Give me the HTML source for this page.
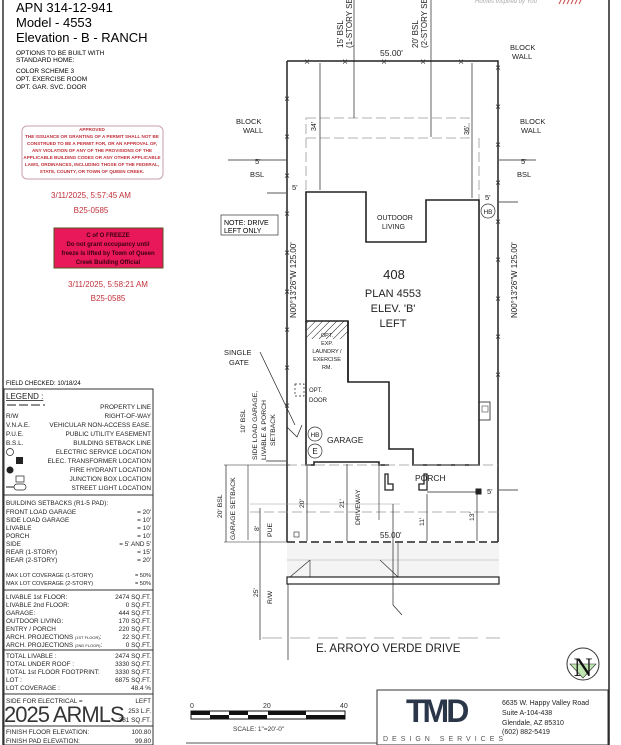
<!DOCTYPE html>
<html><head><meta charset="utf-8"><style>
html,body{margin:0;padding:0;background:#fff;width:621px;height:745px;overflow:hidden}
svg{display:block;font-family:"Liberation Sans",sans-serif}
</style></head><body>
<svg width="621" height="745" viewBox="0 0 621 745" xmlns="http://www.w3.org/2000/svg">
<rect width="621" height="745" fill="#fff"/>
<line x1="3" y1="0" x2="3" y2="745" stroke="#333" stroke-width="1.5"/>
<line x1="609" y1="0" x2="609" y2="745" stroke="#222" stroke-width="1.5"/>
<line x1="186" y1="743" x2="609" y2="743" stroke="#555" stroke-width="1"/>
<text x="16" y="12" font-size="13">APN  314-12-941</text>
<text x="16" y="27" font-size="13">Model -  4553</text>
<text x="16" y="42" font-size="13">Elevation -  B - RANCH</text>
<text x="16" y="55" font-size="6.5">OPTIONS TO BE BUILT WITH</text>
<text x="16" y="62" font-size="6.5">STANDARD HOME:</text>
<text x="16" y="73" font-size="6.5">COLOR  SCHEME  3</text>
<text x="16" y="81" font-size="6.5">OPT.  EXERCISE  ROOM</text>
<text x="16" y="89" font-size="6.5">OPT.  GAR.  SVC.  DOOR</text>
<rect x="22" y="126" width="141" height="53" rx="5" fill="#fff" stroke="#c9a0a8"/>
<g font-size="4.6" fill="#c0303a" text-anchor="middle" font-weight="bold">
<text x="92" y="131">APPROVED</text>
<text x="92" y="138">THE ISSUANCE OR GRANTING OF A PERMIT SHALL NOT BE</text>
<text x="92" y="145">CONSTRUED TO BE A PERMIT FOR, OR AN APPROVAL OF,</text>
<text x="92" y="152">ANY VIOLATION OF ANY OF THE PROVISIONS OF THE</text>
<text x="92" y="159">APPLICABLE BUILDING CODES OR ANY OTHER APPLICABLE</text>
<text x="92" y="166">LAWS, ORDINANCES, INCLUDING THOSE OF THE FEDERAL,</text>
<text x="92" y="173">STATE, COUNTY, OR TOWN OF QUEEN CREEK.</text>
</g>
<text x="91" y="198" font-size="8" fill="#c0303a" text-anchor="middle">3/11/2025, 5:57:45 AM</text>
<text x="91" y="213" font-size="8" fill="#c0303a" text-anchor="middle">B25-0585</text>
<rect x="54" y="228" width="109" height="40" fill="#e8185a" stroke="#552"/>
<g font-size="6" fill="#3a0010" text-anchor="middle" font-weight="bold">
<text x="108" y="237">C of O FREEZE</text>
<text x="108" y="246">Do not grant occupancy until</text>
<text x="108" y="255">freeze is lifted by Town of Queen</text>
<text x="108" y="264">Creek Building Official</text>
</g>
<text x="108" y="287" font-size="8" fill="#c0303a" text-anchor="middle">3/11/2025, 5:58:21 AM</text>
<text x="108" y="301" font-size="8" fill="#c0303a" text-anchor="middle">B25-0585</text>
<text x="6" y="385" font-size="6">FIELD CHECKED: 10/18/24</text>
<rect x="4" y="389" width="149" height="356" fill="none" stroke="#333"/>
<g font-size="6.4" fill="#222">
<text x="6" y="399" font-size="8" text-decoration="underline">LEGEND :</text>
<line x1="7" y1="405" x2="45" y2="405" stroke="#222" stroke-dasharray="9,3"/>
<g text-anchor="end">
<text x="151" y="409">PROPERTY LINE</text>
<text x="151" y="418">RIGHT-OF-WAY</text>
<text x="151" y="427">VEHICULAR NON-ACCESS EASE.</text>
<text x="151" y="436">PUBLIC UTILITY EASEMENT</text>
<text x="151" y="445">BUILDING SETBACK LINE</text>
<text x="151" y="454">ELECTRIC SERVICE LOCATION</text>
<text x="151" y="463">ELEC. TRANSFORMER LOCATION</text>
<text x="151" y="472">FIRE HYDRANT LOCATION</text>
<text x="151" y="481">JUNCTION BOX LOCATION</text>
<text x="151" y="490">STREET LIGHT LOCATION</text>
</g>
<text x="6" y="418">R/W</text>
<text x="6" y="427">V.N.A.E.</text>
<text x="6" y="436">P.U.E.</text>
<text x="6" y="445">B.S.L.</text>
<circle cx="10" cy="452" r="3.5" fill="none" stroke="#222" stroke-width=".7"/>
<rect x="16" y="457" width="7" height="7" fill="#222"/>
<circle cx="10" cy="470" r="3.5" fill="#222"/>
<rect x="16" y="476" width="8" height="6" fill="none" stroke="#222" stroke-width=".7"/>
<line x1="6" y1="487" x2="14" y2="487" stroke="#222"/><rect x="14" y="484" width="12" height="6" rx="3" fill="none" stroke="#222" stroke-width=".7"/>
<line x1="4" y1="495" x2="153" y2="495" stroke="#333"/>
<text x="6" y="505">BUILDING SETBACKS (R1-5 PAD):</text>
<text x="6" y="514">FRONT LOAD GARAGE</text><text x="151" y="514" text-anchor="end">= 20'</text>
<text x="6" y="522">SIDE LOAD GARAGE</text><text x="151" y="522" text-anchor="end">= 10'</text>
<text x="6" y="530">LIVABLE</text><text x="151" y="530" text-anchor="end">= 10'</text>
<text x="6" y="538">PORCH</text><text x="151" y="538" text-anchor="end">= 10'</text>
<text x="6" y="546">SIDE</text><text x="151" y="546" text-anchor="end">= 5' AND 5'</text>
<text x="6" y="554">REAR (1-STORY)</text><text x="151" y="554" text-anchor="end">= 15'</text>
<text x="6" y="562">REAR (2-STORY)</text><text x="151" y="562" text-anchor="end">= 20'</text>
<text x="6" y="577" font-size="5.6">MAX LOT COVERAGE (1-STORY)</text><text x="151" y="577" text-anchor="end" font-size="5.6">= 50%</text>
<text x="6" y="585" font-size="5.6">MAX LOT COVERAGE (2-STORY)</text><text x="151" y="585" text-anchor="end" font-size="5.6">= 50%</text>
<line x1="4" y1="590" x2="153" y2="590" stroke="#333"/>
<text x="6" y="599">LIVABLE 1st FLOOR:</text><text x="151" y="599" text-anchor="end">2474  SQ.FT.</text>
<text x="6" y="607">LIVABLE 2nd FLOOR:</text><text x="151" y="607" text-anchor="end">0  SQ.FT.</text>
<text x="6" y="615">GARAGE:</text><text x="151" y="615" text-anchor="end">444  SQ.FT.</text>
<text x="6" y="623">OUTDOOR LIVING:</text><text x="151" y="623" text-anchor="end">170  SQ.FT.</text>
<text x="6" y="631">ENTRY / PORCH</text><text x="151" y="631" text-anchor="end">220  SQ.FT.</text>
<text x="6" y="639">ARCH. PROJECTIONS <tspan font-size="4">(1ST FLOOR)</tspan>:</text><text x="151" y="639" text-anchor="end">22  SQ.FT.</text>
<text x="6" y="647">ARCH. PROJECTIONS <tspan font-size="4">(2ND FLOOR)</tspan>:</text><text x="151" y="647" text-anchor="end">0  SQ.FT.</text>
<line x1="4" y1="650" x2="153" y2="650" stroke="#333"/>
<text x="6" y="658">TOTAL LIVABLE :</text><text x="151" y="658" text-anchor="end">2474  SQ.FT.</text>
<text x="6" y="666">TOTAL UNDER ROOF :</text><text x="151" y="666" text-anchor="end">3330  SQ.FT.</text>
<text x="6" y="674">TOTAL 1st FLOOR FOOTPRINT:</text><text x="151" y="674" text-anchor="end">3330  SQ.FT.</text>
<text x="6" y="682">LOT :</text><text x="151" y="682" text-anchor="end">6875  SQ.FT.</text>
<text x="6" y="690">LOT COVERAGE :</text><text x="151" y="690" text-anchor="end">48.4 %</text>
<line x1="4" y1="694" x2="153" y2="694" stroke="#333"/>
<text x="6" y="703">SIDE FOR ELECTRICAL =</text><text x="151" y="703" text-anchor="end">LEFT</text>
<text x="151" y="713" text-anchor="end">253 L.F.</text>
<text x="151" y="722" text-anchor="end">381 SQ.FT.</text>
<text x="4" y="722" font-size="22" fill="#111" opacity=".85" letter-spacing="-1">2025 ARMLS</text>
<line x1="4" y1="726" x2="153" y2="726" stroke="#333"/>
<text x="6" y="734">FINISH FLOOR ELEVATION:</text><text x="151" y="734" text-anchor="end">100.80</text>
<text x="6" y="743">FINISH PAD ELEVATION:</text><text x="151" y="743" text-anchor="end">99.80</text>
</g>

<defs><pattern id="hatch" width="5" height="5" patternUnits="userSpaceOnUse" patternTransform="rotate(45)"><line x1="0" y1="0" x2="0" y2="5" stroke="#222" stroke-width="1"/></pattern></defs>
<g stroke="#222" fill="none">
<path d="M287 61 H498 V542" stroke-width="1.5"/>
<line x1="287" y1="61" x2="287" y2="542" stroke-width="1.5"/>
<line x1="287" y1="542" x2="498" y2="542" stroke-width="1.5" stroke-dasharray="8,4"/>
<rect x="306" y="118" width="163" height="20" stroke="#999" stroke-dasharray="10,4" stroke-width=".8"/>
<line x1="306" y1="138" x2="306" y2="192" stroke="#999" stroke-dasharray="10,4" stroke-width=".8"/>
<line x1="479" y1="138" x2="479" y2="200" stroke="#999" stroke-dasharray="10,4" stroke-width=".8"/>
<line x1="354" y1="0" x2="354" y2="118" stroke-width=".7"/>
<line x1="431" y1="0" x2="431" y2="137" stroke-width=".7"/>
<line x1="320" y1="63" x2="320" y2="190" stroke-width=".7"/>
<line x1="472" y1="63" x2="472" y2="198" stroke-width=".7"/>
<path d="M306 192 H366 V242 H426 V200 H479 V465 H413 V449 H389 V382 H348 V321 H306 Z" stroke-width="1.6"/>
<path d="M306 321 V465 H314 V462 H379 V465 H389" stroke-width="1.6"/>
<rect x="306" y="321" width="42" height="18" stroke="none" fill="url(#hatch)"/>
<path d="M348 321 V382" stroke-width="1.6"/>
<path d="M385 490 h8 v-6 h-5 v-10 h-3z M427 490 h-8 v-6 h5 v-10 h3z" fill="#fff" stroke-width="1.3"/>
<line x1="427" y1="492" x2="478" y2="492" stroke-width=".7"/>
<rect x="476" y="489" width="5" height="5" fill="#222"/>
<rect x="479" y="402" width="11" height="18" stroke-width=".8"/>
<rect x="482" y="406" width="6" height="6" stroke-width=".5"/>
<line x1="287" y1="465" x2="498" y2="465" stroke="#999" stroke-dasharray="10,4" stroke-width=".7"/>
<line x1="250" y1="512" x2="498" y2="512" stroke="#999" stroke-dasharray="10,4" stroke-width=".7"/>
<line x1="250" y1="504" x2="400" y2="504" stroke="#999" stroke-width=".5"/>
<line x1="307" y1="466" x2="307" y2="541" stroke-width=".7"/>
<line x1="347" y1="464" x2="347" y2="541" stroke-width=".7"/>
<line x1="427" y1="494" x2="427" y2="541" stroke-width=".7"/>
<line x1="477" y1="494" x2="477" y2="541" stroke-width=".7"/>
<line x1="379" y1="465" x2="379" y2="520" stroke-width=".6"/>
<line x1="260" y1="508" x2="260" y2="640" stroke-width=".7"/>
<line x1="226" y1="465" x2="226" y2="542" stroke-width=".7"/>
<line x1="248" y1="465" x2="248" y2="540" stroke-width=".6"/>
<line x1="224" y1="465" x2="290" y2="465" stroke-width=".6"/>
<line x1="224" y1="542" x2="290" y2="542" stroke-width=".6"/>
<line x1="228" y1="160" x2="286" y2="160" stroke-width=".7"/>
<line x1="267" y1="193" x2="286" y2="193" stroke-width=".7"/>
<line x1="499" y1="160" x2="536" y2="160" stroke-width=".7"/>
<line x1="499" y1="202" x2="518" y2="202" stroke-width=".7"/>
<line x1="499" y1="490" x2="518" y2="490" stroke-width=".7"/>
<line x1="266" y1="461" x2="286" y2="461" stroke-width=".7"/>
<path d="M260 352 L295 425 M287 427 L297 437 L302 425" stroke-width=".7"/>
<rect x="295" y="384" width="9" height="12" stroke-dasharray="2,2" stroke-width=".7"/>
<rect x="287" y="543" width="212" height="34" fill="#f4f4f4" stroke="none"/>
<line x1="287" y1="560" x2="499" y2="560" stroke="#aaa" stroke-width=".6"/>
<rect x="287" y="577" width="212" height="7" fill="#fff" stroke-width="1.2"/>
<line x1="290" y1="577" x2="310" y2="560" stroke-width=".6"/>
<line x1="310" y1="560" x2="310" y2="577" stroke-width=".6"/>
<line x1="380" y1="560" x2="398" y2="577" stroke-width=".6"/>
<line x1="398" y1="543" x2="398" y2="577" stroke-width=".6"/>
<line x1="393" y1="504" x2="393" y2="605" stroke-width=".7"/>
<line x1="393" y1="605" x2="402" y2="615" stroke-width=".7"/>
<line x1="288" y1="584" x2="288" y2="660" stroke-width=".7"/>
<line x1="262" y1="638" x2="500" y2="638" stroke="#999" stroke-dasharray="20,8" stroke-width=".8"/>
<rect x="294" y="532" width="5" height="5" stroke-width=".6"/>
</g>
<g font-size="10" fill="#333" text-anchor="middle">
<text x="307" y="65">×</text><text x="345" y="65">×</text><text x="384" y="65">×</text><text x="423" y="65">×</text><text x="461" y="65">×</text>
<text x="287" y="102">×</text><text x="287" y="140">×</text><text x="287" y="179">×</text><text x="287" y="217">×</text><text x="287" y="256">×</text><text x="287" y="295">×</text><text x="287" y="333">×</text><text x="287" y="371">×</text><text x="287" y="409">×</text>
<text x="498" y="71">×</text><text x="498" y="110">×</text><text x="498" y="148">×</text><text x="498" y="186">×</text><text x="498" y="225">×</text><text x="498" y="263">×</text><text x="498" y="302">×</text><text x="498" y="340">×</text><text x="498" y="378">×</text>
</g>
<g font-size="7.5" fill="#222">
<text transform="translate(343,48) rotate(-90)" font-size="8">15' BSL</text>
<text transform="translate(352,48) rotate(-90)" font-size="8">(1-STORY SE</text>
<text transform="translate(418,48) rotate(-90)" font-size="8">20' BSL</text>
<text transform="translate(427,48) rotate(-90)" font-size="8">(2-STORY SE</text>
<text x="380" y="56" font-size="8.5">55.00'</text>
<text x="510" y="50">BLOCK</text><text x="512" y="59">WALL</text>
<text x="236" y="124">BLOCK</text><text x="243" y="133">WALL</text>
<text x="520" y="124">BLOCK</text><text x="521" y="133">WALL</text>
<text transform="translate(316,131) rotate(-90)" font-size="7">34'</text>
<text transform="translate(469,135) rotate(-90)" font-size="7">36'</text>
<text x="255" y="164">5'</text><text x="250" y="177">BSL</text>
<text x="521" y="164">5'</text><text x="517" y="177">BSL</text>
<text x="292" y="190">5'</text>
<text x="485" y="200">5'</text>
<text x="487" y="494">5'</text>
<text x="377" y="220" font-size="7">OUTDOOR</text><text x="382" y="229" font-size="7">LIVING</text>
<text x="394" y="279" font-size="13" text-anchor="middle">408</text>
<text x="393" y="297" font-size="11" text-anchor="middle">PLAN 4553</text>
<text x="393" y="312" font-size="11" text-anchor="middle">ELEV. 'B'</text>
<text x="393" y="327" font-size="11" text-anchor="middle">LEFT</text>
<text x="327" y="337" font-size="5.5" text-anchor="middle">OPT.</text>
<text x="327" y="345" font-size="5.5" text-anchor="middle">EXP.</text>
<text x="327" y="353" font-size="5.5" text-anchor="middle">LAUNDRY /</text>
<text x="327" y="361" font-size="5.5" text-anchor="middle">EXERCISE</text>
<text x="327" y="369" font-size="5.5" text-anchor="middle">RM.</text>
<text x="309" y="392" font-size="6">OPT.</text><text x="309" y="402" font-size="6">DOOR</text>
<text x="327" y="443" font-size="8.5">GARAGE</text>
<text x="415" y="481" font-size="8.5">PORCH</text>
<text x="224" y="355">SINGLE</text><text x="229" y="365">GATE</text>
<text x="380" y="538" font-size="8">55.00'</text>
<text x="316" y="652" font-size="11.5">E. ARROYO VERDE DRIVE</text>
<text transform="translate(257,460) rotate(-90)" font-size="6.8">SIDE LOAD GARAGE,</text>
<text transform="translate(266,460) rotate(-90)" font-size="6.8">LIVABLE &amp; PORCH</text>
<text transform="translate(275,446) rotate(-90)" font-size="6.8">SETBACK</text>
<text transform="translate(245,433) rotate(-90)" font-size="6.8">10' BSL</text>
<text transform="translate(222,518) rotate(-90)" font-size="6.8">20' BSL</text>
<text transform="translate(235,540) rotate(-90)" font-size="6.8">GARAGE SETBACK</text>
<text transform="translate(259,531) rotate(-90)" font-size="6.8">8'</text>
<text transform="translate(272,537) rotate(-90)" font-size="6.8">PUE</text>
<text transform="translate(304,508) rotate(-90)" font-size="6.8">20'</text>
<text transform="translate(344,508) rotate(-90)" font-size="6.8">21'</text>
<text transform="translate(360,525) rotate(-90)" font-size="6.8">DRIVEWAY</text>
<text transform="translate(424,526) rotate(-90)" font-size="6.8">11'</text>
<text transform="translate(474,521) rotate(-90)" font-size="6.8">13'</text>
<text transform="translate(258,597) rotate(-90)" font-size="6.8">25'</text>
<text transform="translate(272,604) rotate(-90)" font-size="6.8">R/W</text>
<text transform="translate(296,318) rotate(-90)" font-size="8">N00°13'26"W  125.00'</text>
<text transform="translate(517,318) rotate(-90)" font-size="8">N00°13'26"W  125.00'</text>
<text x="315" y="437" font-size="6.5" text-anchor="middle">HB</text>
<text x="488" y="214" font-size="6.5" text-anchor="middle">HB</text>
<text x="315" y="454" font-size="8" text-anchor="middle">E</text>
</g>
<rect x="221" y="215" width="57" height="20" fill="#fff" stroke="#333" stroke-width=".7"/>
<text x="224" y="225" font-size="7">NOTE: DRIVE</text><text x="224" y="233" font-size="7">LEFT ONLY</text>
<g fill="none" stroke="#333" stroke-width=".7">
<circle cx="315" cy="434" r="7"/><circle cx="315" cy="451" r="7"/><circle cx="488" cy="211" r="7"/>
</g>
<circle cx="583" cy="664" r="16" fill="none" stroke="#333"/>
<path d="M570 664 L596 664 L583 678 Z" fill="#bfe6b0" stroke="#333" stroke-width=".6"/>
<text x="583" y="676" font-size="26" font-family="Liberation Serif" text-anchor="middle" fill="#111">N</text>
<g font-size="7" fill="#333">
<text x="190" y="708">0</text><text x="263" y="708">20</text><text x="340" y="708">40</text>
<rect x="191" y="711" width="154" height="8" fill="#fff" stroke="#111"/>
<rect x="210" y="715" width="19" height="4" fill="#111"/><rect x="248" y="715" width="19" height="4" fill="#111"/>
<rect x="191" y="711" width="19" height="4" fill="#111"/><rect x="229" y="711" width="19" height="4" fill="#111"/>
<rect x="268" y="711" width="38" height="4" fill="#111"/><rect x="306" y="715" width="39" height="4" fill="#111"/>
<text x="233" y="731" font-size="6.5">SCALE:  1"=20'-0"</text>
</g>
<rect x="377" y="690" width="231" height="55" fill="#fff" stroke="#333"/>
<text x="406" y="722" font-size="32" font-weight="bold" fill="#2b3748" letter-spacing="-3">TMD</text>
<text x="383" y="741" font-size="7" fill="#555" letter-spacing="4">DESIGN SERVICES</text>
<g font-size="7" fill="#222"><text x="502" y="705">6635 W. Happy Valley Road</text><text x="502" y="715">Suite A-104-438</text><text x="502" y="725">Glendale, AZ 85310</text><text x="502" y="734">(602) 882-5419</text></g>
<text x="475" y="3" font-size="6" fill="#aaa" font-style="italic">Homes Inspired by You</text>
<g stroke="#c44" stroke-width="1"><line x1="559" y1="4" x2="561" y2="0"/><line x1="563" y1="4" x2="565" y2="0"/><line x1="567" y1="4" x2="569" y2="0"/><line x1="571" y1="4" x2="573" y2="0"/><line x1="575" y1="4" x2="577" y2="0"/><line x1="579" y1="4" x2="581" y2="0"/></g>
</svg>
</body></html>
